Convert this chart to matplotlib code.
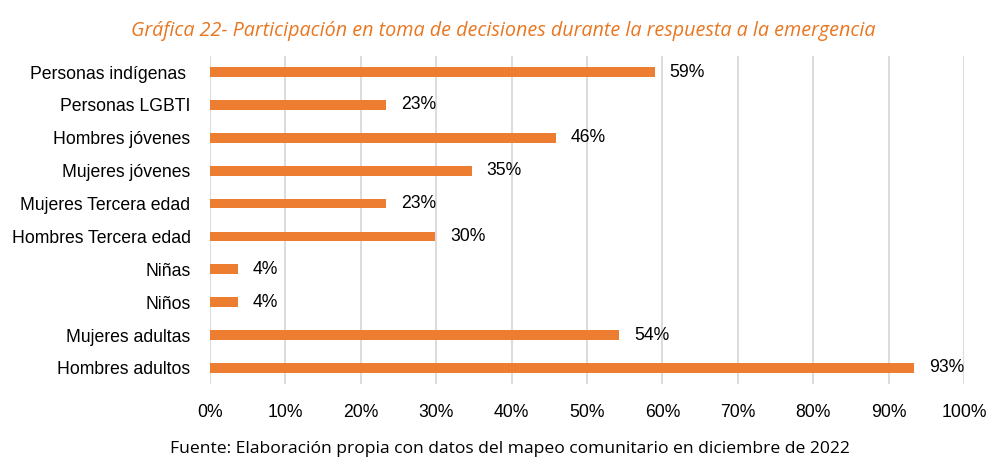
import matplotlib
matplotlib.use("Agg")
import matplotlib.pyplot as plt
from matplotlib.ticker import FuncFormatter, MultipleLocator

categories = ["Personas indígenas ", "Personas LGBTI", "Hombres jóvenes", "Mujeres jóvenes",
              "Mujeres Tercera edad", "Hombres Tercera edad", "Niñas", "Niños",
              "Mujeres adultas", "Hombres adultos"]
values = [59.0, 23.4, 45.9, 34.7, 23.4, 29.9, 3.7, 3.7, 54.3, 93.4]
title = "Gráfica 22- Participación en toma de decisiones durante la respuesta a la emergencia"
source = "Fuente: Elaboración propia con datos del mapeo comunitario en diciembre de 2022"

fig = plt.figure(figsize=(9.87, 4.58), dpi=100)
ax = fig.add_axes([0.2128, 0.1607, 0.7639, 0.7179])

n = len(categories)
ypos = list(range(n))[::-1]
bar_color = "#ED7D31"
ax.barh(ypos, values, height=0.3, color=bar_color, zorder=3)
for y, v in zip(ypos, values):
    ax.annotate(f"{v:.0f}%", (v, y), xytext=(10.5, 0), textcoords="offset points",
                va="center", ha="left", fontsize=12.7, family="Liberation Sans", color="#000000")

ax.set_xlim(0, 100)
ax.set_ylim(-0.5, n - 0.5)
ax.set_yticks(ypos)
ax.set_yticklabels(categories, fontsize=12.7, family="Liberation Sans")
ax.xaxis.set_major_locator(MultipleLocator(10))
ax.xaxis.set_major_formatter(FuncFormatter(lambda x, p: f"{int(round(x))}%"))
for lbl in ax.get_xticklabels():
    lbl.set_family("Liberation Sans")
    lbl.set_fontsize(12.7)
ax.tick_params(axis="both", length=0)
ax.tick_params(axis="x", pad=14)
ax.tick_params(axis="y", pad=14)
ax.grid(axis="x", color="#D9D9D9", linewidth=1.3, zorder=0)
for s in ax.spines.values():
    s.set_visible(False)

fig.text(0.51, 0.932, title, ha="center", va="center", fontsize=14.2, style="italic",
         family="Open Sans", color="#E87722")
fig.text(0.517, 0.02, source, ha="center", va="center", fontsize=12.6, family="Open Sans",
         color="#000000")

fig.savefig("out.png", dpi=100)
